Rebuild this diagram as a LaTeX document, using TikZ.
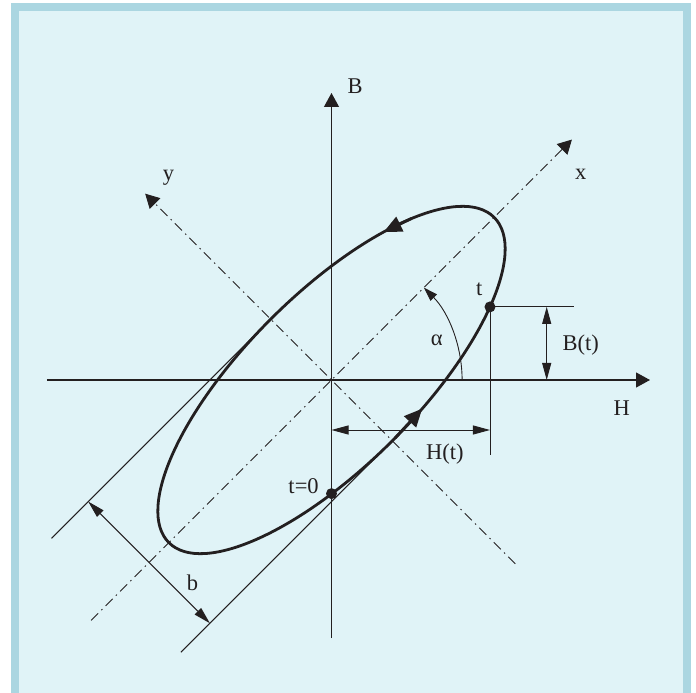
\documentclass[tikz,border=0pt]{standalone}
\usepackage{fontspec}
\setmainfont{Liberation Serif}
\usetikzlibrary{arrows.meta}
\definecolor{framec}{RGB}{171,214,225}
\definecolor{innerc}{RGB}{224,243,247}
\definecolor{ink}{RGB}{35,31,32}
\begin{document}
\begin{tikzpicture}[x=1pt,y=1pt,
  axis/.style={ink, line width=1.2pt, -{Triangle[length=14pt,width=15pt]}},
  thinline/.style={ink, line width=0.9pt},
  dimarr/.style={ink, line width=0.9pt, {Triangle[length=17pt,width=9pt]}-{Triangle[length=17pt,width=9pt]}},
  dashdot/.style={ink, line width=0.9pt, dash pattern=on 10pt off 4.5pt on 1.5pt off 4.5pt},
  curve/.style={ink, line width=2.8pt},
  curvearrow/.style={ink, line width=2.8pt, -{Triangle[length=18pt,width=16pt]}},
  lbl/.style={ink, font=\fontsize{22.5}{26}\selectfont, inner sep=0pt, anchor=base west},
  dotmark/.style={circle, fill=ink, inner sep=0pt, minimum size=11pt}]
\useasboundingbox (-331.5,-313) rectangle (364.5,380);
\fill[white] (-331.5,-313) rectangle (364.5,380);
\fill[framec] (-320.5,-313) rectangle (359.5,377);
\fill[innerc] (-312.5,-313) rectangle (351.5,369);

% main coordinates
\coordinate (O) at (0,0);
\coordinate (Bbot) at (0,-258);
\coordinate (Btop) at (0,287);
\coordinate (Hleft) at (-284.5,0);
\coordinate (Hright) at (318.5,0);

\begin{scope}[rotate=45]
  \coordinate (xa) at (-340,0);
  \coordinate (xb) at (340,0);
  \coordinate (ya) at (0,-260);
  \coordinate (yb) at (0,263.5);
  \coordinate (ua1) at (-310,86);
  \coordinate (ua2) at (-20,86);
  \coordinate (ub1) at (-299,-86);
  \coordinate (ub2) at (-20,-86);
  \coordinate (ba) at (-258,86);
  \coordinate (bb) at (-258,-86);
  \coordinate (T) at ({230*cos(-44.6)},{86*sin(-44.6)});
  \coordinate (e1a) at ({230*cos(42)},{86*sin(42)});
  \coordinate (e1b) at ({230*cos(52)},{86*sin(52)});
  \coordinate (e2a) at ({230*cos(-89)},{86*sin(-89)});
  \coordinate (e2b) at ({230*cos(-79)},{86*sin(-79)});
  \draw[curve] (O) ellipse [x radius=230pt, y radius=86pt];
\end{scope}
\coordinate (T0) at (0,-113.6);

% axes
\draw[axis] (Hleft) -- (Hright);
\draw[axis] (Bbot) -- (Btop);
\draw[dashdot, -{Triangle[length=14pt,width=15pt]}] (xa) -- (xb);
\draw[dashdot, -{Triangle[length=14pt,width=15pt]}] (ya) -- (yb);

% tangent lines and b dimension
\draw[thinline] (ua1) -- (ua2);
\draw[thinline] (ub1) -- (ub2);
\draw[dimarr] (ba) -- (bb);

% direction arrows on ellipse
\draw[curvearrow] (e1a) -- (e1b);
\draw[curvearrow] (e2a) -- (e2b);

% alpha arc
\coordinate (arcS) at (130.6,0);
\draw[thinline, -{Triangle[length=14pt,width=9pt]}] (arcS) arc[start angle=0, end angle=45, radius=130.6pt];

% H(t), B(t)
\coordinate (htl) at (0,-50);
\coordinate (vb) at (0,-75);
\coordinate (hr) at (242.5,0);
\coordinate (btx) at (215.2,0);
\draw[thinline] (T) -- (T |- vb);
\draw[thinline] (T) -- (T -| hr);
\draw[dimarr] (htl) -- (T |- htl);
\draw[dimarr] (btx) -- (T -| btx);

% points
\node[dotmark] (Tdot) at (T) {};
\node[dotmark] (T0dot) at (T0) {};

% labels
\node[lbl] (lB) at (15.8,286.7) {B};
\node[lbl] (ly) at (-168.8,199.5) {y};
\node[lbl] (lx) at (243.5,200) {x};
\node[lbl] (lt) at (144.5,84) {t};
\node[lbl] (lalpha) at (99.2,34) {α};
\node[lbl] (lBt) at (230.8,29.3) {B(t)};
\node[lbl] (lH) at (281.8,-36) {H};
\node[lbl] (lHt) at (94.5,-80) {H(t)};
\node[lbl] (lt0) at (-43.2,-113.3) {t=0};
\node[lbl] (lb) at (-144.8,-210.7) {b};
\end{tikzpicture}
\end{document}
